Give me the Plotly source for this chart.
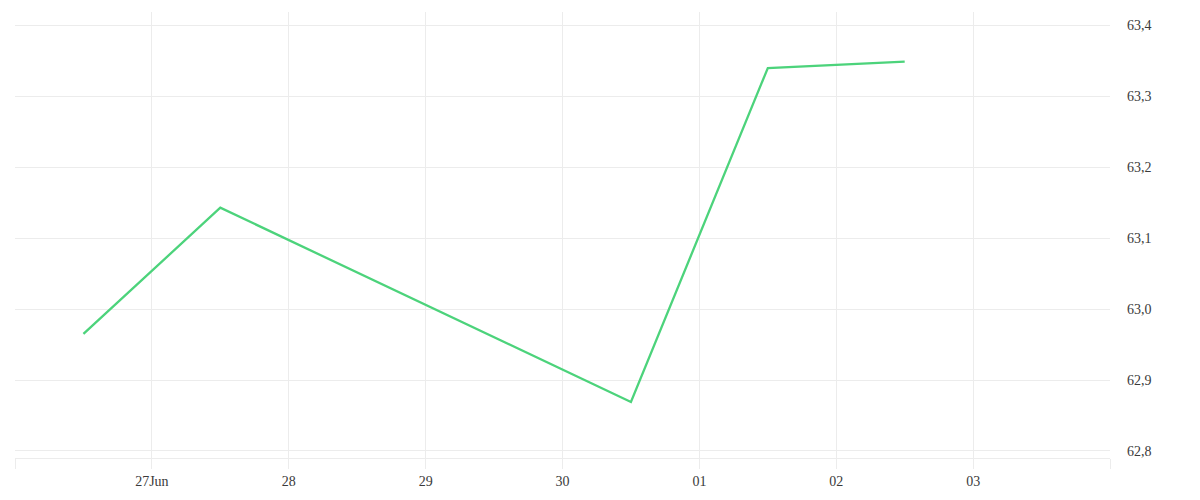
import plotly.graph_objects as go

# price series (noon timestamps)
dates = ["2024-06-26 12:00", "2024-06-27 12:00", "2024-06-30 12:00",
         "2024-07-01 12:00", "2024-07-02 12:00"]
prices = [62.965, 63.143, 62.869, 63.340, 63.349]

tick_dates = ["2024-06-26", "2024-06-27", "2024-06-28", "2024-06-29", "2024-06-30",
              "2024-07-01", "2024-07-02", "2024-07-03", "2024-07-04"]
tick_labels = ["", "27Jun", "28", "29", "30", "01", "02", "03", ""]

y_ticks = [62.8, 62.9, 63.0, 63.1, 63.2, 63.3, 63.4]
y_labels = ["62,8", "62,9", "63,0", "63,1", "63,2", "63,3", "63,4"]

grid = "#ececec"

fig = go.Figure()
fig.add_trace(go.Scatter(
    x=dates, y=prices, mode="lines",
    line=dict(color="#4cd37b", width=2.3),
    hoverinfo="x+y", showlegend=False,
))

fig.update_layout(
    width=1192, height=492,
    margin=dict(l=7, r=90, t=4, b=42),
    paper_bgcolor="white", plot_bgcolor="white",
    font=dict(family="Liberation Serif, serif", size=14, color="#3a3a3a"),
    xaxis=dict(
        type="date", range=["2024-06-26", "2024-07-04"],
        tickvals=tick_dates, ticktext=tick_labels,
        showgrid=True, gridcolor=grid, gridwidth=1,
        showline=True, linecolor=grid, linewidth=1,
        ticks="outside", ticklen=10, tickcolor=grid, tickwidth=1,
        zeroline=False,
    ),
    yaxis=dict(
        side="right", range=[62.79, 63.419],
        tickvals=y_ticks, ticktext=y_labels,
        showgrid=True, gridcolor=grid, gridwidth=1,
        zeroline=False, ticks="", ticklabelstandoff=16,
    ),
)

fig.write_html("out.html")
